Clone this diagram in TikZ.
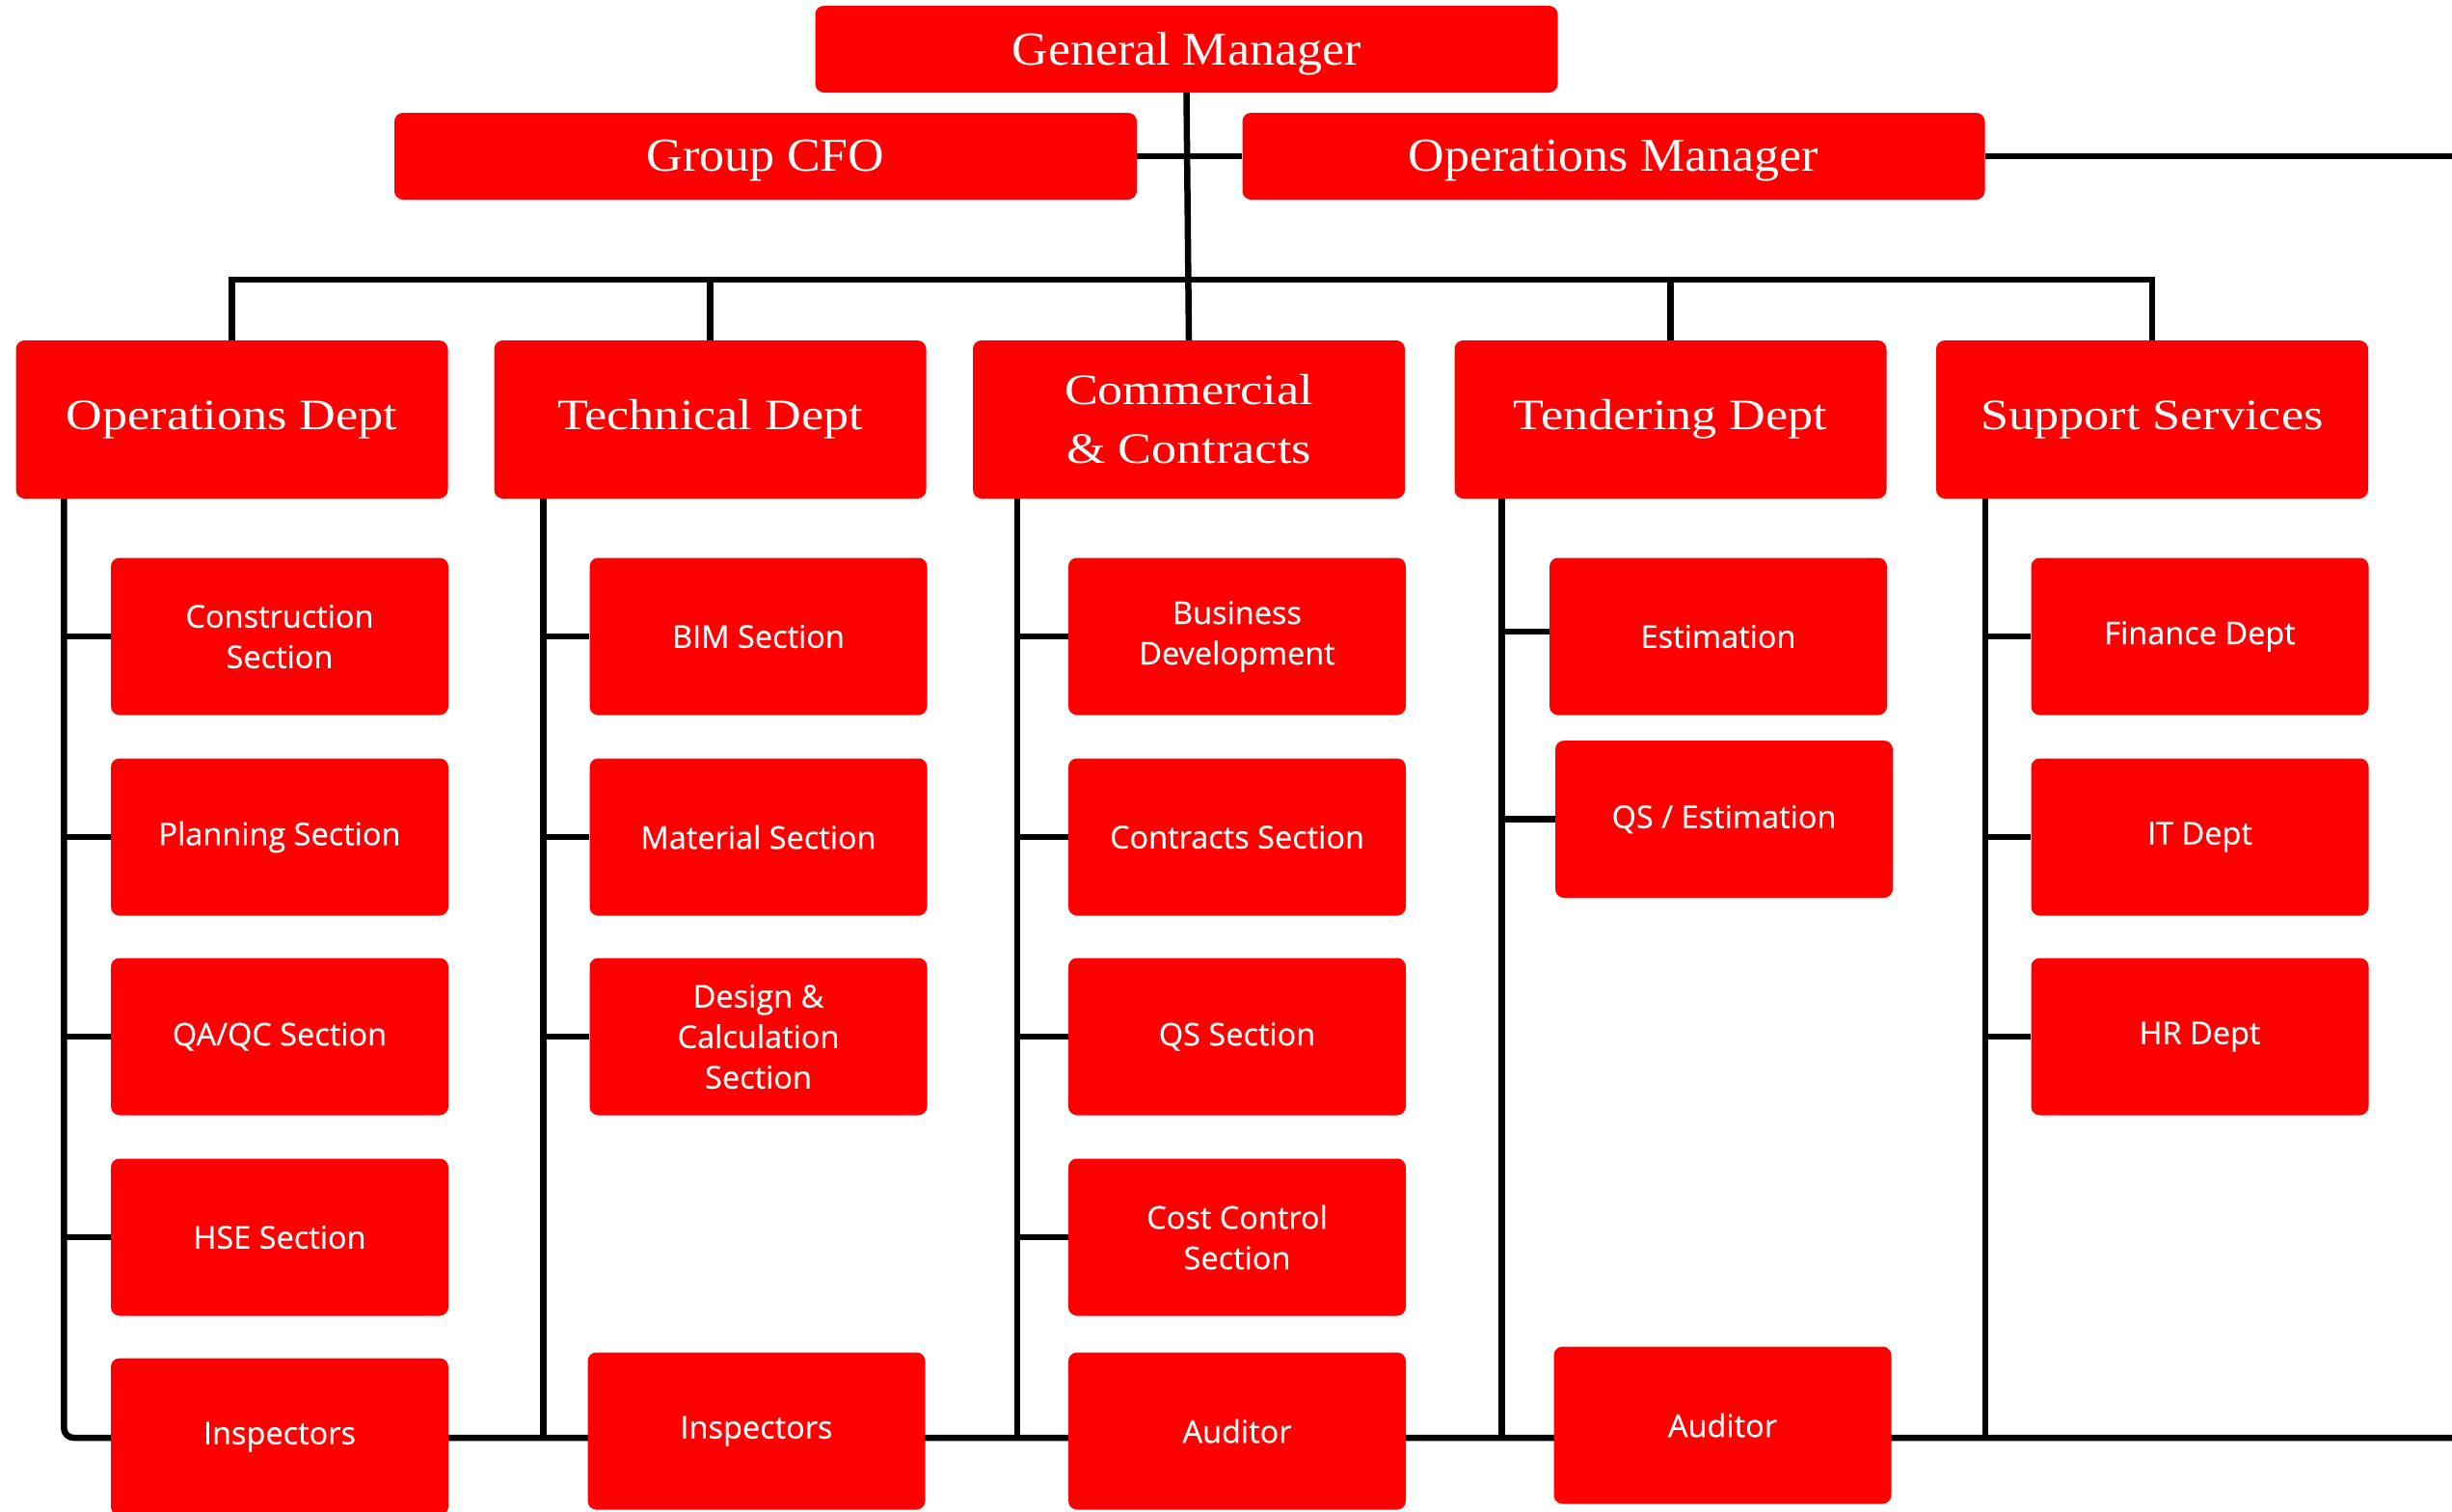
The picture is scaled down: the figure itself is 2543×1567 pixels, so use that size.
\documentclass[tikz,border=0pt]{standalone}
\usepackage{fontspec}
\newfontfamily\headfont{Liberation Serif}[FakeStretch=1.06]
\newfontfamily\deptfont{Liberation Serif}[FakeStretch=1.16]
\newfontfamily\itemfont{Open Sans}[FakeBold=0.4]
\usetikzlibrary{backgrounds}
\definecolor{boxred}{RGB}{255,0,0}

\begin{document}
\begin{tikzpicture}[x=1pt,y=-1pt,
  box/.style={fill=boxred, rounded corners=9pt, text=white, align=center, inner sep=0pt},
  head/.style={box, minimum width=770pt, minimum height=90pt, text depth=0.15em, font=\headfont\fontsize{49}{60}\selectfont},
  dept/.style={box, minimum width=448pt, minimum height=164pt, font=\deptfont\fontsize{45}{61}\selectfont},
  unit/.style={box, minimum width=350pt, minimum height=163pt, font=\itemfont\fontsize{32.5}{42}\selectfont},
  link/.style={line width=6.5pt, draw=black}]

\useasboundingbox (0,0) rectangle (2543,1567);
\clip (0,0) rectangle (2543,1567);

% top management
\node[head] (gm)  at (1230.5,51) {General Manager};
\node[head] (cfo) at (794,162)   {Group CFO};
\node[head] (opm) at (1673.5,162) {Operations Manager};

% departments
\node[dept] (opsd) at (240.5,435) {Operations Dept};
\node[dept] (tech) at (736.5,435) {Technical Dept};
\node[dept] (comm) at (1233,435)  {Commercial\\\& Contracts};
\node[dept] (tend) at (1732.5,435) {Tendering Dept};
\node[dept] (supp) at (2232,435)  {Support Services};

% operations units
\node[unit] (o1) at (290,660)  {Construction\\Section};
\node[unit] (o2) at (290,868)  {Planning Section};
\node[unit] (o3) at (290,1075) {QA/QC Section};
\node[unit] (o4) at (290,1283) {HSE Section};
\node[unit] (o5) at (290,1490) {Inspectors};

% technical units
\node[unit] (t1) at (786.5,660)  {BIM Section};
\node[unit] (t2) at (786.5,868)  {Material Section};
\node[unit] (t3) at (786.5,1075) {Design \&\\Calculation\\Section};
\node[unit] (t4) at (784.5,1484) {Inspectors};

% commercial units
\node[unit] (k1) at (1283,660)  {Business\\Development};
\node[unit] (k2) at (1283,868)  {Contracts Section};
\node[unit] (k3) at (1283,1075) {QS Section};
\node[unit] (k4) at (1283,1283) {Cost Control\\Section};
\node[unit] (k5) at (1283,1484) {Auditor};

% tendering units
\node[unit] (e1) at (1782,660)   {Estimation};
\node[unit] (e2) at (1788,849.5) {QS / Estimation};
\node[unit] (e3) at (1786.5,1478) {Auditor};

% support units
\node[unit] (s1) at (2281.5,660)  {Finance Dept};
\node[unit] (s2) at (2281.5,868)  {IT Dept};
\node[unit] (s3) at (2281.5,1075) {HR Dept};

% connectors
\coordinate (bus)   at (0,290);
\coordinate (omEnd) at (2560,162);
\coordinate (base)  at (2560,1491);
\coordinate (c1) at ([xshift=50pt]opsd.south west);
\coordinate (c2) at ([xshift=51pt]tech.south west);
\coordinate (c3) at ([xshift=46pt]comm.south west);
\coordinate (c4) at ([xshift=49pt]tend.south west);
\coordinate (c5) at ([xshift=51pt]supp.south west);

\begin{scope}[on background layer]
  \draw[link] (gm.south) -- (comm.north);
  \draw[link] (cfo.east) -- (opm.west);
  \draw[link] (opm.east) -- (omEnd);
  \draw[link] (opsd.north) |- (supp.north |- bus) -- (supp.north);
  \draw[link] (tech.north) -- (tech.north |- bus);
  \draw[link] (tend.north) -- (tend.north |- bus);

  \draw[link, rounded corners=10pt] (c1) |- (base);
  \foreach \c in {c2,c3,c4,c5}
    \draw[link] (\c) -- (\c |- base);

  \foreach \u in {o1,o2,o3,o4}
    \draw[link] (c1 |- \u.west) -- (\u.west);
  \foreach \u in {t1,t2,t3}
    \draw[link] (c2 |- \u.west) -- (\u.west);
  \foreach \u in {k1,k2,k3,k4}
    \draw[link] (c3 |- \u.west) -- (\u.west);
  \draw[link] (c4 |- 0,655) -- (e1.west |- 0,655);
  \draw[link] (c4 |- e2.west) -- (e2.west);
  \foreach \u in {s1,s2,s3}
    \draw[link] (c5 |- \u.west) -- (\u.west);
\end{scope}
\end{tikzpicture}
\end{document}
